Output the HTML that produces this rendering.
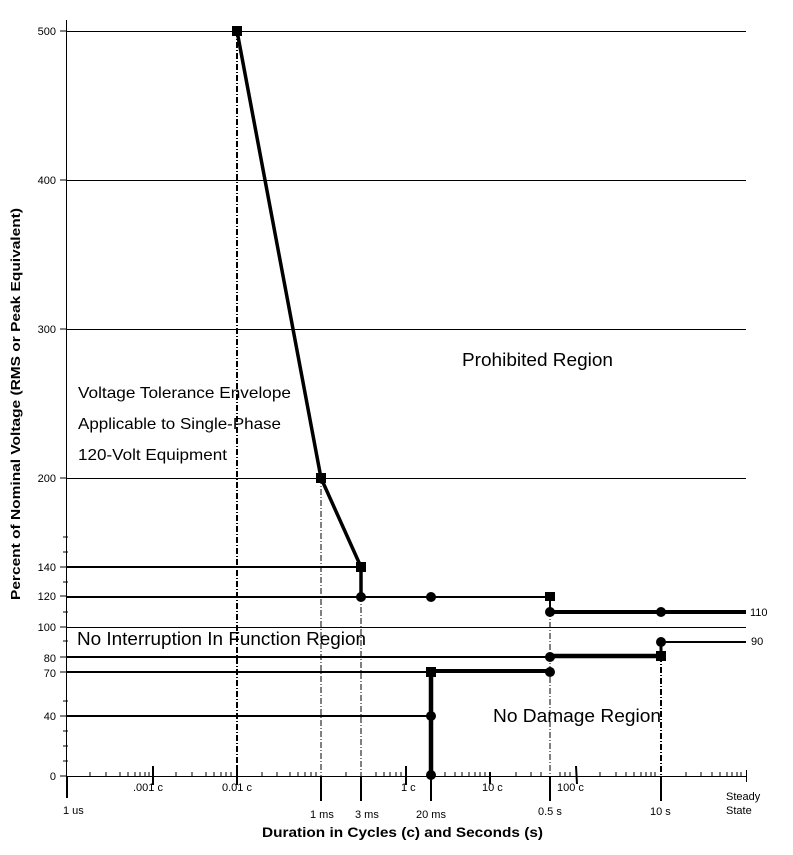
<!DOCTYPE html>
<html><head><meta charset="utf-8"><style>
body{margin:0;background:#fff}
svg{display:block;font-family:"Liberation Sans",Arial,sans-serif}
</style></head><body>
<svg width="793" height="855" viewBox="0 0 793 855" xmlns="http://www.w3.org/2000/svg">
<rect width="793" height="855" fill="#fff"/>
<!-- grid -->
<g stroke="#000" stroke-width="1" shape-rendering="crispEdges">
<line x1="66" y1="31.5" x2="746" y2="31.5"/>
<line x1="66" y1="180.5" x2="746" y2="180.5"/>
<line x1="66" y1="329.5" x2="746" y2="329.5"/>
<line x1="66" y1="478.5" x2="746" y2="478.5"/>
<line x1="66" y1="627.5" x2="746" y2="627.5"/>
<line x1="66.5" y1="20" x2="66.5" y2="776"/>
<line x1="66" y1="776.5" x2="746" y2="776.5"/>
<line x1="746.5" y1="770" x2="746.5" y2="782"/>
</g>
<!-- dash-dot verticals -->
<g stroke="#000" stroke-width="1" stroke-dasharray="6,2,1,2" fill="none">
<line x1="237" y1="31" x2="237" y2="776" stroke-width="2"/>
<line x1="321" y1="478" x2="321" y2="776"/>
<line x1="361" y1="596" x2="361" y2="776"/>
<line x1="550" y1="611" x2="550" y2="776"/>
<line x1="661" y1="656" x2="661" y2="776" stroke-width="2"/>
</g>
<!-- y minor ticks -->
<g stroke="#000" stroke-width="1" shape-rendering="crispEdges">
<line x1="60" y1="31" x2="66" y2="31"/><line x1="60" y1="180" x2="66" y2="180"/><line x1="60" y1="329" x2="66" y2="329"/><line x1="60" y1="478" x2="66" y2="478"/>
<line x1="60" y1="567" x2="66" y2="567"/><line x1="60" y1="596" x2="66" y2="596"/><line x1="60" y1="627" x2="66" y2="627"/><line x1="60" y1="657" x2="66" y2="657"/><line x1="60" y1="672" x2="66" y2="672"/><line x1="60" y1="716" x2="66" y2="716"/><line x1="60" y1="776" x2="66" y2="776"/>
<line x1="63" y1="552" x2="68" y2="552"/><line x1="63" y1="582" x2="68" y2="582"/><line x1="63" y1="612" x2="68" y2="612"/><line x1="63" y1="641" x2="68" y2="641"/><line x1="63" y1="701" x2="68" y2="701"/><line x1="63" y1="731" x2="68" y2="731"/><line x1="63" y1="746" x2="68" y2="746"/><line x1="63" y1="761" x2="68" y2="761"/><line x1="63" y1="537" x2="68" y2="537"/>
</g>
<!-- x ticks -->
<g stroke="#000" stroke-width="1" shape-rendering="crispEdges">
<line x1="90" y1="772" x2="90" y2="776"/><line x1="106" y1="772" x2="106" y2="776"/><line x1="120" y1="772" x2="120" y2="776"/><line x1="128" y1="772" x2="128" y2="776"/><line x1="135" y1="772" x2="135" y2="776"/><line x1="140" y1="772" x2="140" y2="776"/><line x1="145" y1="772" x2="145" y2="776"/><line x1="149" y1="772" x2="149" y2="776"/>
<line x1="176" y1="772" x2="176" y2="776"/><line x1="192" y1="772" x2="192" y2="776"/><line x1="206" y1="772" x2="206" y2="776"/><line x1="214" y1="772" x2="214" y2="776"/><line x1="221" y1="772" x2="221" y2="776"/><line x1="226" y1="772" x2="226" y2="776"/><line x1="231" y1="772" x2="231" y2="776"/>
<line x1="262" y1="772" x2="262" y2="776"/><line x1="277" y1="772" x2="277" y2="776"/><line x1="290" y1="772" x2="290" y2="776"/><line x1="298" y1="772" x2="298" y2="776"/><line x1="305" y1="772" x2="305" y2="776"/><line x1="311" y1="772" x2="311" y2="776"/><line x1="316" y1="772" x2="316" y2="776"/>
<line x1="346" y1="772" x2="346" y2="776"/><line x1="376" y1="772" x2="376" y2="776"/><line x1="384" y1="772" x2="384" y2="776"/><line x1="390" y1="772" x2="390" y2="776"/><line x1="396" y1="772" x2="396" y2="776"/><line x1="401" y1="772" x2="401" y2="776"/>
<line x1="445" y1="772" x2="445" y2="776"/><line x1="455" y1="772" x2="455" y2="776"/><line x1="462" y1="772" x2="462" y2="776"/><line x1="469" y1="772" x2="469" y2="776"/><line x1="475" y1="772" x2="475" y2="776"/><line x1="480" y1="772" x2="480" y2="776"/><line x1="485" y1="772" x2="485" y2="776"/>
<line x1="516" y1="772" x2="516" y2="776"/><line x1="531" y1="772" x2="531" y2="776"/><line x1="541" y1="772" x2="541" y2="776"/><line x1="560" y1="772" x2="560" y2="776"/><line x1="565" y1="772" x2="565" y2="776"/><line x1="570" y1="772" x2="570" y2="776"/>
<line x1="600" y1="772" x2="600" y2="776"/><line x1="616" y1="772" x2="616" y2="776"/><line x1="626" y1="772" x2="626" y2="776"/><line x1="634" y1="772" x2="634" y2="776"/><line x1="641" y1="772" x2="641" y2="776"/><line x1="646" y1="772" x2="646" y2="776"/><line x1="651" y1="772" x2="651" y2="776"/><line x1="655" y1="772" x2="655" y2="776"/>
<line x1="686" y1="772" x2="686" y2="776"/><line x1="701" y1="772" x2="701" y2="776"/><line x1="712" y1="772" x2="712" y2="776"/><line x1="720" y1="772" x2="720" y2="776"/><line x1="727" y1="772" x2="727" y2="776"/><line x1="732" y1="772" x2="732" y2="776"/><line x1="737" y1="772" x2="737" y2="776"/><line x1="741" y1="772" x2="741" y2="776"/>
</g>
<g stroke="#000" stroke-width="2">
<line x1="67" y1="776" x2="67" y2="798"/>
<line x1="153" y1="766" x2="153" y2="785"/>
<line x1="237" y1="766" x2="237" y2="785"/>
<line x1="321" y1="776" x2="321" y2="801"/>
<line x1="361" y1="776" x2="361" y2="801"/>
<line x1="406" y1="766" x2="406" y2="785"/>
<line x1="431" y1="776" x2="431" y2="801"/>
<line x1="490" y1="772" x2="490" y2="784"/>
<line x1="550" y1="776" x2="550" y2="801"/>
<line x1="576" y1="766" x2="577" y2="784"/>
<line x1="661" y1="776" x2="661" y2="801"/>
</g>
<!-- curves -->
<g stroke="#000" fill="none" stroke-linejoin="round">
<polyline points="237,31 321,478 361,567 361,596" stroke-width="3.5"/>
<line x1="66" y1="567" x2="361" y2="567" stroke-width="2"/>
<line x1="66" y1="597" x2="550" y2="597" stroke-width="2"/>
<line x1="550" y1="597" x2="550" y2="612" stroke-width="2"/>
<line x1="550" y1="612" x2="746" y2="612" stroke-width="4"/>
<line x1="661" y1="642" x2="746" y2="642" stroke-width="2"/>
<line x1="661" y1="642" x2="661" y2="656" stroke-width="3"/>
<line x1="66" y1="657" x2="550" y2="657" stroke-width="2"/>
<line x1="550" y1="656" x2="661" y2="656" stroke-width="4.5"/>
<line x1="66" y1="672" x2="431" y2="672" stroke-width="2"/>
<line x1="431" y1="671" x2="550" y2="671" stroke-width="4"/>
<line x1="66" y1="716" x2="431" y2="716" stroke-width="2"/>
<line x1="431" y1="671" x2="431" y2="776" stroke-width="4.5"/>
</g>
<!-- markers -->
<g fill="#000">
<rect x="232" y="26" width="10" height="10"/>
<rect x="316" y="473" width="10" height="10"/>
<rect x="356" y="562" width="10" height="10"/>
<circle cx="361" cy="597" r="5"/>
<circle cx="431" cy="597" r="5"/>
<rect x="545" y="592" width="10" height="9"/>
<circle cx="550" cy="612" r="5"/>
<circle cx="661" cy="612" r="5"/>
<circle cx="661" cy="642" r="5"/>
<rect x="656" y="651" width="10" height="10"/>
<circle cx="550" cy="657" r="5"/>
<circle cx="550" cy="672" r="5"/>
<rect x="426" y="667" width="10" height="10"/>
<circle cx="431" cy="716" r="5"/>
<circle cx="431" cy="775" r="5"/>
</g>
<!-- labels -->
<g font-size="11" text-anchor="end" fill="#000">
<text x="56" y="35">500</text><text x="56" y="184">400</text><text x="56" y="333">300</text><text x="56" y="482">200</text>
<text x="56" y="571">140</text><text x="56" y="600">120</text><text x="56" y="631">100</text><text x="56" y="662">80</text><text x="56" y="677">70</text><text x="56" y="720">40</text><text x="56" y="780">0</text>
</g>
<g font-size="11" fill="#000">
<text x="750" y="616">110</text><text x="751" y="645">90</text>
<text x="63" y="814">1 us</text>
<text x="133" y="791">.001 c</text>
<text x="222" y="791">0.01 c</text>
<text x="310" y="818">1 ms</text>
<text x="355" y="818">3 ms</text>
<text x="401" y="791">1 c</text>
<text x="416" y="818">20 ms</text>
<text x="482" y="791">10 c</text>
<text x="538" y="815">0.5 s</text>
<text x="557" y="791">100 c</text>
<text x="650" y="815">10 s</text>
<text x="726" y="800">Steady</text>
<text x="726" y="814">State</text>
</g>
<text x="262" y="837" font-size="14" font-weight="bold" textLength="281" lengthAdjust="spacingAndGlyphs">Duration in Cycles (c) and Seconds (s)</text>
<text transform="translate(20,600) rotate(-90)" font-size="13" font-weight="bold" textLength="392" lengthAdjust="spacingAndGlyphs">Percent of Nominal Voltage (RMS or Peak Equivalent)</text>
<g font-size="16" fill="#000">
<text x="78" y="398" textLength="213" lengthAdjust="spacingAndGlyphs">Voltage Tolerance Envelope</text>
<text x="78" y="429" textLength="203" lengthAdjust="spacingAndGlyphs">Applicable to Single-Phase</text>
<text x="78" y="460" textLength="149" lengthAdjust="spacingAndGlyphs">120-Volt Equipment</text>
</g>
<text x="462" y="366" font-size="18.5" textLength="151" lengthAdjust="spacingAndGlyphs">Prohibited Region</text>
<text x="77" y="645" font-size="18.5" textLength="289" lengthAdjust="spacingAndGlyphs">No Interruption In Function Region</text>
<text x="493" y="722" font-size="18.5" textLength="168" lengthAdjust="spacingAndGlyphs">No Damage Region</text>
</svg>
</body></html>
